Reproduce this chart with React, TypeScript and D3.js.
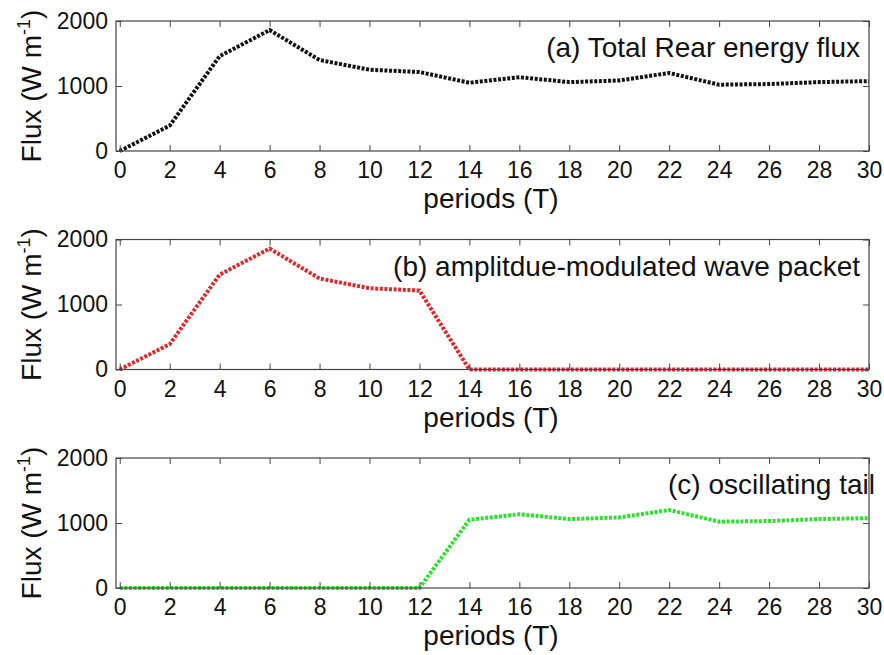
import React, { useEffect, useRef } from 'react'
import * as d3 from 'd3'

// periods (T) at which the flux was sampled
const periods = [0, 2, 4, 6, 8, 10, 12, 14, 16, 18, 20, 22, 24, 26, 28, 30]

// (a) total rear energy flux
const totalFlux = [0, 390, 1460, 1860, 1400, 1250, 1215, 1050, 1135, 1060, 1085, 1200, 1020, 1030, 1060, 1075]
// (b) amplitude-modulated wave packet
const packetFlux = [0, 390, 1460, 1860, 1400, 1250, 1215, 0, 0, 0, 0, 0, 0, 0, 0, 0]
// (c) oscillating tail
const tailFlux = [0, 0, 0, 0, 0, 0, 0, 1050, 1135, 1060, 1085, 1200, 1020, 1030, 1060, 1075]

const xTicks = d3.range(0, 31, 2)
const yTicks = [0, 1000, 2000]

const panels = [
    { title: '(a) Total Rear energy flux', values: totalFlux, color: '#111111', top: 21 },
    { title: '(b) amplitdue-modulated wave packet', values: packetFlux, color: '#d92a2f', top: 239.5 },
    { title: '(c) oscillating tail', values: tailFlux, color: '#2ee02e', top: 458, titleRight: 875 },
]

const W = 884
const H = 655
const left = 116
const right = 869
const plotH = 130
const font = 'Liberation Sans, Arial, sans-serif'

const Panel = ({ title, values, color, top, titleRight = 860 }) => {
    const bottomRef = useRef(null)
    const leftRef = useRef(null)
    const topRef = useRef(null)
    const rightRef = useRef(null)

    const x = d3.scaleLinear().domain([-0.15, 30]).range([left, right])
    const y = d3.scaleLinear().domain([0, 2000]).range([top + plotH, top])

    useEffect(() => {
        const style = sel => {
            sel.select('.domain').remove()
            sel.selectAll('line').attr('stroke', '#444')
            sel.selectAll('text')
                .attr('fill', '#111')
                .style('font-family', font)
                .style('font-size', '23px')
        }
        d3.select(bottomRef.current)
            .call(d3.axisBottom(x).tickValues(xTicks).tickSize(-6).tickSizeOuter(0).tickPadding(11).tickFormat(d3.format('d')))
            .call(style)
        d3.select(leftRef.current)
            .call(d3.axisLeft(y).tickValues(yTicks).tickSize(-6).tickSizeOuter(0).tickPadding(8).tickFormat(d3.format('d')))
            .call(style)
        d3.select(topRef.current)
            .call(d3.axisTop(x).tickValues(xTicks).tickSize(-6).tickSizeOuter(0).tickFormat(() => ''))
            .call(style)
        d3.select(rightRef.current)
            .call(d3.axisRight(y).tickValues(yTicks).tickSize(-6).tickSizeOuter(0).tickFormat(() => ''))
            .call(style)
    })

    const line = d3.line()
        .x((d, i) => x(periods[i]))
        .y(d => y(d))

    return (
        <g>
            <path
                d={line(values)}
                fill='none'
                stroke={color}
                strokeWidth={4}
                strokeDasharray='3 1.6'
            />
            <rect
                x={left}
                y={top}
                width={right - left}
                height={plotH}
                fill='none'
                stroke='#444'
                strokeWidth={1.2}
            />
            <g ref={bottomRef} transform={`translate(0, ${top + plotH})`} />
            <g ref={leftRef} transform={`translate(${left}, 0)`} />
            <g ref={topRef} transform={`translate(0, ${top})`} />
            <g ref={rightRef} transform={`translate(${right}, 0)`} />
            <text
                x={titleRight}
                y={top + 36}
                textAnchor='end'
                fontFamily={font}
                fontSize={28}
                fill='#111'
            >
                {title}
            </text>
            <text
                x={491}
                y={top + plotH + 57}
                textAnchor='middle'
                fontFamily={font}
                fontSize={28}
                fill='#111'
            >
                periods (T)
            </text>
            <text
                transform={`translate(41, ${top + plotH / 2}) rotate(-90)`}
                textAnchor='middle'
                fontFamily={font}
                fontSize={28}
                fill='#111'
            >
                Flux (W m<tspan dy={-11} fontSize={18}>-1</tspan><tspan dy={11}>)</tspan>
            </text>
        </g>
    )
}

const App = () => {
    return (
        <svg
            width={W}
            height={H}
            style={{ position: 'absolute', left: 0, top: 0, background: '#fff' }}
        >
            <rect width={W} height={H} fill='#fff' />
            {panels.map(p => (
                <Panel key={p.title} {...p} />
            ))}
        </svg>
    )
}

export default App
